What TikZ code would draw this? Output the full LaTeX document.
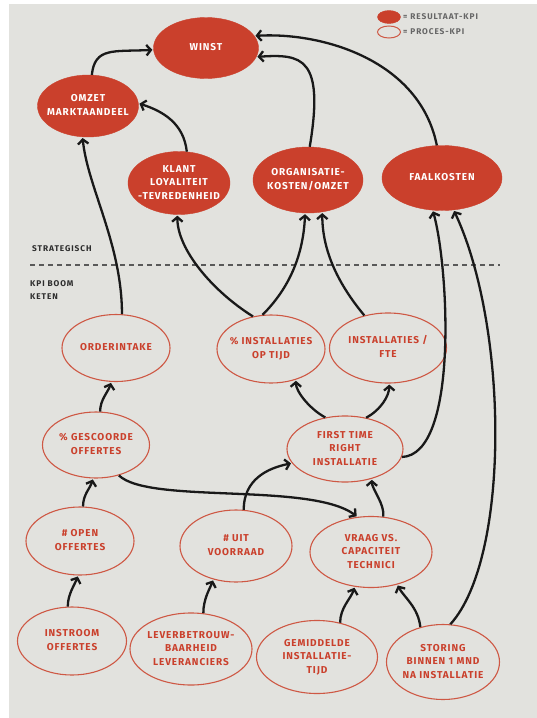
\documentclass[tikz,border=0pt]{standalone}
\usepackage{fontspec}
\setmainfont{Fira Sans}
\newfontfamily\kfont{Fira Sans}[LetterSpace=9]
\newfontfamily\lfont{Fira Sans}[LetterSpace=11]
\usetikzlibrary{shapes.geometric,arrows.meta}
\definecolor{kred}{RGB}{202,64,44}
\definecolor{kline}{RGB}{206,88,68}
\definecolor{page}{RGB}{226,226,222}
\definecolor{ink}{RGB}{45,45,45}
\newcommand\kpi[1]{\makebox[0pt]{\begin{tabular}{@{}c@{}}#1\end{tabular}}}
\begin{document}
\begin{tikzpicture}[x=1pt,y=-1pt,
  kpitext/.style={font=\kfont\bfseries\fontsize{10}{13.5}\selectfont},
  res/.style={ellipse, fill=kred, draw=kred, text=white, inner sep=0pt, kpitext},
  proc/.style={ellipse, draw=kline, line width=1.1pt, text=kred, inner sep=0pt, kpitext},
  conn/.style={line width=2.3pt, draw=black!90, -{Straight Barb[length=4.5pt,width=10.5pt]}, shorten >=1pt},
  lbl/.style={font=\lfont\bfseries\fontsize{8.3}{13}\selectfont, text=ink, anchor=west, inner sep=0pt}]
\fill[white] (0,0) rectangle (537,718);
\fill[page] (9,4) rectangle (537,718);
\useasboundingbox (0,0) rectangle (537,718);

% legend
\node[ellipse, fill=kred, draw=kred, minimum width=23pt, minimum height=13pt, inner sep=0pt] (legres) at (389,17) {};
\node[ellipse, draw=kline, line width=1pt, minimum width=23pt, minimum height=12pt, inner sep=0pt] (legproc) at (389,32) {};
\node[lbl, text=black!60] (legrestxt) at (403,17) {= RESULTAAT-KPI};
\node[lbl, text=black!60] (legproctxt) at (403,32) {= PROCES-KPI};

% strategic / chain labels
\node[lbl] (strat) at (32,249) {STRATEGISCH};
\draw[black!65, line width=1.1pt, dash pattern=on 5pt off 4pt] (30,265) -- (500,265);
\node[lbl, align=left] (kpiboom) at (30,290.5) {KPI BOOM\\KETEN};

% result KPIs
\node[res, minimum width=105pt, minimum height=61pt] (winst) at (206,48) {\kpi{WINST}};
\node[res, minimum width=101pt, minimum height=62pt] (omzet) at (88,106) {\kpi{OMZET\\MARKTAANDEEL}};
\node[res, minimum width=102pt, minimum height=63pt] (klant) at (179,183) {\kpi{KLANT\\LOYALITEIT\\-TEVREDENHEID}};
\node[res, minimum width=110pt, minimum height=66pt] (org) at (308,180) {\kpi{ORGANISATIE-\\KOSTEN/OMZET}};
\node[res, minimum width=120pt, minimum height=65pt] (faal) at (442,178) {\kpi{FAALKOSTEN}};

% process KPIs
\node[proc, minimum width=108pt, minimum height=67pt] (order) at (116,348) {\kpi{ORDERINTAKE}};
\node[proc, minimum width=108pt, minimum height=68pt] (pinst) at (271,349) {\kpi{\% INSTALLATIES\\OP TIJD}};
\node[proc, minimum width=117pt, minimum height=70pt] (ifte) at (388,348) {\kpi{INSTALLATIES /\\FTE}};
\node[proc, minimum width=107pt, minimum height=66pt] (gesc) at (96,445) {\kpi{\% GESCOORDE\\OFFERTES}};
\node[proc, minimum width=116pt, minimum height=66pt] (ftr) at (345,449) {\kpi{FIRST TIME\\RIGHT\\INSTALLATIE}};
\node[proc, minimum width=108pt, minimum height=68pt] (open) at (80,541) {\kpi{\# OPEN\\OFFERTES}};
\node[proc, minimum width=112pt, minimum height=72pt] (uit) at (236,546) {\kpi{\# UIT\\VOORRAAD}};
\node[proc, minimum width=122pt, minimum height=71pt] (vraag) at (371,552) {\kpi{VRAAG VS.\\CAPACITEIT\\TECHNICI}};
\node[proc, minimum width=109pt, minimum height=68pt] (instroom) at (72,641) {\kpi{INSTROOM\\OFFERTES}};
\node[proc, minimum width=122pt, minimum height=72pt] (lever) at (191,649) {\kpi{LEVERBETROUW-\\BAARHEID\\LEVERANCIERS}};
\node[proc, minimum width=121pt, minimum height=73pt] (gem) at (317,657) {\kpi{GEMIDDELDE\\INSTALLATIE-\\TIJD}};
\node[proc, minimum width=113pt, minimum height=75pt] (storing) at (443,662) {\kpi{STORING\\BINNEN 1 MND\\NA INSTALLATIE}};

% connectors
\draw[conn] (omzet.83) .. controls +(3,-28) and +(-40,2) .. (winst.182);
\draw[conn] (klant.76) .. controls +(-3,-28) and +(25,8) .. (omzet.3);
\draw[conn] (org.87) .. controls +(15,-90) and +(45,-3) .. (winst.-10);
\draw[conn] (faal.99) .. controls +(-17,-85) and +(68,-4) .. (winst.14);
\draw[conn] (order.80) .. controls +(0,-70) and +(5,50) .. (omzet.-100);
\draw[conn] (pinst.119) .. controls +(-40,-25) and +(0,35) .. (klant.-93);
\draw[conn] (pinst.104) .. controls +(25,-25) and +(-2,45) .. (org.-95);
\draw[conn] (ifte.126) .. controls +(-25,-30) and +(0,40) .. (org.-66);
\draw[conn] (ftr.-8) .. controls +(57,-2) and +(16,57) .. (faal.-106);
\draw[conn] (storing.79) .. controls +(60,-66) and +(55,117) .. (faal.-70);
\draw[conn] (ftr.122) .. controls +(-15,-8) and +(0,12) .. (pinst.-51);
\draw[conn] (ftr.56) .. controls +(15,-8) and +(0,12) .. (ifte.-88);
\draw[conn] (gesc.83) .. controls +(0,-12) and +(-3,10) .. (order.-98);
\draw[conn] (open.85) .. controls +(0,-12) and +(-3,10) .. (gesc.-95);
\draw[conn] (gesc.-53) .. controls +(30,29) and +(-47,-35) .. (vraag.111);
\draw[conn] (uit.78) .. controls +(0,-30) and +(-25,5) .. (ftr.195);
\draw[conn] (vraag.71) .. controls +(2,-12) and +(0,10) .. (ftr.-48);
\draw[conn] (instroom.97) .. controls +(0,-12) and +(-4,10) .. (open.-93);
\draw[conn] (lever.71) .. controls +(0,-14) and +(-4,10) .. (uit.-124);
\draw[conn] (gem.56) .. controls +(0,-15) and +(-4,12) .. (vraag.-115);
\draw[conn] (storing.123) .. controls +(-2,-20) and +(6,12) .. (vraag.-51);
\end{tikzpicture}
\end{document}
